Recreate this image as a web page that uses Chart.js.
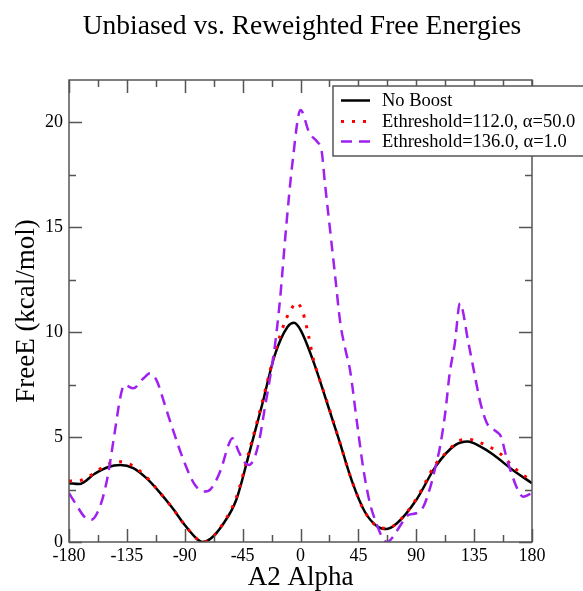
<!DOCTYPE html>
<html>
<head>
<meta charset="utf-8">
<script src="https://cdn.jsdelivr.net/npm/chart.js@4.4.1/dist/chart.umd.min.js"></script>
<style>
  html, body { margin: 0; padding: 0; background: #fff; }
  canvas { display: block; }
</style>
</head>
<body>
<canvas id="free-energy-chart" width="583" height="591"></canvas>
<script>
// Free energy profiles along the A2 alpha dihedral (degrees, kcal/mol)
const noBoostAngles = [-180, -172, -160, -150, -140, -130, -120, -110, -100, -90, -80, -76, -70, -60, -50, -40, -30, -20, -10, -5, 0, 10, 20, 30, 40, 50, 60, 67, 75, 90, 105, 120, 130, 140, 150, 165, 180];
const noBoostEnergy = [2.8, 2.76, 3.25, 3.56, 3.67, 3.52, 3.05, 2.4, 1.65, 0.81, 0.12, 0.0, 0.15, 0.87, 2.0, 4.2, 6.5, 8.9, 10.25, 10.44, 10.1, 8.6, 6.75, 4.85, 2.9, 1.44, 0.73, 0.62, 0.89, 2.0, 3.59, 4.6, 4.78, 4.54, 4.15, 3.43, 2.8];

const lowBoostAngles = [-180, -170, -160, -150, -140, -130, -120, -110, -100, -90, -80, -76, -70, -60, -50, -40, -30, -20, -12, -8, -3, 2, 6, 10, 14, 20, 30, 40, 50, 60, 67, 75, 90, 105, 115, 123, 131, 140, 148, 156, 164, 173, 180];
const lowBoostEnergy = [2.9, 2.95, 3.3, 3.7, 3.82, 3.62, 3.1, 2.4, 1.65, 0.81, 0.12, 0.0, 0.15, 0.9, 2.1, 4.3, 6.6, 9.0, 10.5, 11.0, 11.4, 10.9, 9.9, 8.7, 7.9, 6.8, 4.85, 2.9, 1.44, 0.73, 0.65, 0.9, 2.05, 3.7, 4.35, 4.82, 4.89, 4.72, 4.5, 4.17, 3.67, 3.19, 2.95];

const highBoostAngles = [-180, -175, -168, -163, -155, -150, -145, -140, -137, -130, -122, -117, -112, -105, -100, -90, -82, -75, -70, -62, -56, -53, -48, -44, -40, -36, -32, -28, -24, -20, -16, -11, -6, 0, 7, 13, 16.5, 19, 23, 27, 31, 35, 38.5, 44, 49, 54, 59, 64, 67.5, 72, 77, 84, 90, 95.5, 101, 105, 108.5, 112.5, 116, 120, 124, 130.5, 135, 140, 145, 152.5, 156, 160, 164, 169, 173, 177, 180];
const highBoostEnergy = [2.32, 1.84, 1.2, 1.05, 1.85, 3.1, 5.0, 6.92, 7.48, 7.32, 7.8, 8.03, 7.71, 6.44, 5.49, 3.75, 2.71, 2.4, 2.51, 3.43, 4.62, 4.94, 4.3, 3.83, 3.67, 3.98, 4.86, 6.29, 7.71, 9.3, 11.5, 15.1, 18.2, 20.57, 19.46, 19.06, 18.59, 17.08, 14.86, 12.63, 10.41, 9.14, 8.19, 5.65, 3.43, 1.84, 0.89, 0.17, 0.0, 0.25, 0.73, 1.29, 1.37, 1.68, 2.63, 3.59, 4.54, 6.13, 8.03, 9.46, 11.37, 9.5, 8.1, 6.6, 5.65, 5.25, 5.0, 4.06, 3.27, 2.48, 2.16, 2.24, 2.32];

const seriesLabels = ['No Boost', 'Ethreshold=112.0, \u03b1=50.0', 'Ethreshold=136.0, \u03b1=1.0'];
const xTickValues = [-180, -135, -90, -45, 0, 45, 90, 135, 180];
const yTickValues = [0, 5, 10, 15, 20];

const SERIF = "'Liberation Serif', 'Times New Roman', serif";
const AXIS_COLOR = '#555555';

function toPoints(xs, ys) {
  return xs.map((x, i) => ({ x, y: ys[i] }));
}

// frame, inward tick marks on all four sides, chart title
const framePlugin = {
  id: 'frame',
  afterDatasetsDraw(chart) {
    const { ctx, chartArea: area, scales } = chart;
    const xs = scales.x;
    const ys = scales.y;
    ctx.save();
    ctx.strokeStyle = AXIS_COLOR;
    ctx.lineWidth = 1.5;
    ctx.strokeRect(area.left, area.top, area.right - area.left, area.bottom - area.top);

    ctx.beginPath();
    for (let v = -180; v <= 180; v += 22.5) {
      const px = Math.round(xs.getPixelForValue(v)) + 0.5;
      const len = (v % 45 === 0) ? 13 : 7;
      ctx.moveTo(px, area.bottom);
      ctx.lineTo(px, area.bottom - len);
      ctx.moveTo(px, area.top);
      ctx.lineTo(px, area.top + len);
    }
    for (let v = 0; v <= 22; v += 2.5) {
      const py = Math.round(ys.getPixelForValue(v)) + 0.5;
      const len = (v % 5 === 0) ? 13 : 7;
      ctx.moveTo(area.left, py);
      ctx.lineTo(area.left + len, py);
      ctx.moveTo(area.right, py);
      ctx.lineTo(area.right - len, py);
    }
    ctx.stroke();

    ctx.fillStyle = '#000';
    ctx.font = `27.5px ${SERIF}`;
    ctx.textAlign = 'center';
    ctx.textBaseline = 'alphabetic';
    ctx.fillText('Unbiased vs. Reweighted Free Energies', (area.left + area.right) / 2 + 1.5, 34);
    ctx.restore();
  }
};

// boxed legend in the upper right corner
const boxLegendPlugin = {
  id: 'boxLegend',
  afterDraw(chart) {
    const { ctx } = chart;
    const box = { left: 333, top: 86, right: 600, bottom: 156 };
    const rows = [100, 121, 141];
    ctx.save();
    ctx.fillStyle = '#fff';
    ctx.fillRect(box.left, box.top, box.right - box.left, box.bottom - box.top);
    ctx.strokeStyle = AXIS_COLOR;
    ctx.lineWidth = 1.5;
    ctx.strokeRect(box.left, box.top, box.right - box.left, box.bottom - box.top);

    chart.data.datasets.forEach((ds, i) => {
      const y = rows[i] + 0.5;
      ctx.beginPath();
      ctx.strokeStyle = ds.borderColor;
      ctx.lineWidth = ds.borderWidth;
      ctx.setLineDash(ds.borderDash || []);
      ctx.lineDashOffset = 0;
      ctx.moveTo(341, y);
      ctx.lineTo(370, y);
      ctx.stroke();
      ctx.setLineDash([]);

      ctx.fillStyle = '#000';
      ctx.font = `18.5px ${SERIF}`;
      ctx.textAlign = 'left';
      ctx.textBaseline = 'middle';
      ctx.fillText(ds.label, 382, rows[i] + 1);
    });
    ctx.restore();
  }
};

const canvas = document.getElementById('free-energy-chart');

new Chart(canvas, {
  type: 'line',
  data: {
    datasets: [
      {
        label: seriesLabels[0],
        data: toPoints(noBoostAngles, noBoostEnergy),
        borderColor: '#000000',
        borderWidth: 2.5,
        pointRadius: 0,
        cubicInterpolationMode: 'monotone',
        order: 3
      },
      {
        label: seriesLabels[1],
        data: toPoints(lowBoostAngles, lowBoostEnergy),
        borderColor: '#ff0000',
        borderWidth: 3,
        borderDash: [3, 8],
        pointRadius: 0,
        cubicInterpolationMode: 'monotone',
        order: 2
      },
      {
        label: seriesLabels[2],
        data: toPoints(highBoostAngles, highBoostEnergy),
        borderColor: '#a020f0',
        borderWidth: 2.5,
        borderDash: [11, 7],
        pointRadius: 0,
        cubicInterpolationMode: 'monotone',
        order: 1
      }
    ]
  },
  options: {
    responsive: false,
    animation: false,
    layout: { padding: { top: 80, right: 51, left: 0, bottom: 0 } },
    plugins: {
      legend: { display: false },
      title: { display: false },
      tooltip: { enabled: false }
    },
    scales: {
      x: {
        type: 'linear',
        min: -180,
        max: 180,
        afterFit(scale) { scale.height = 49; },
        afterBuildTicks(scale) { scale.ticks = xTickValues.map((value) => ({ value })); },
        grid: { display: false, drawTicks: false },
        border: { display: false },
        ticks: {
          padding: 3,
          color: '#000',
          font: { family: SERIF, size: 18 },
          maxRotation: 0,
          callback(value) { return String(value); }
        },
        title: {
          display: true,
          text: 'A2 Alpha',
          color: '#000',
          font: { family: SERIF, size: 27, lineHeight: 1 },
          padding: { top: 0, bottom: 0 }
        }
      },
      y: {
        type: 'linear',
        min: 0,
        max: 22,
        afterFit(scale) { scale.width = 69; },
        afterBuildTicks(scale) { scale.ticks = yTickValues.map((value) => ({ value })); },
        grid: { display: false, drawTicks: false },
        border: { display: false },
        ticks: {
          padding: 6,
          color: '#000',
          font: { family: SERIF, size: 18 },
          callback(value) { return String(value); }
        },
        title: {
          display: true,
          text: 'FreeE (kcal/mol)',
          color: '#000',
          font: { family: SERIF, size: 27, lineHeight: 1.2 },
          padding: { top: 11, bottom: 0 }
        }
      }
    }
  },
  plugins: [framePlugin, boxLegendPlugin]
});
</script>
</body>
</html>
